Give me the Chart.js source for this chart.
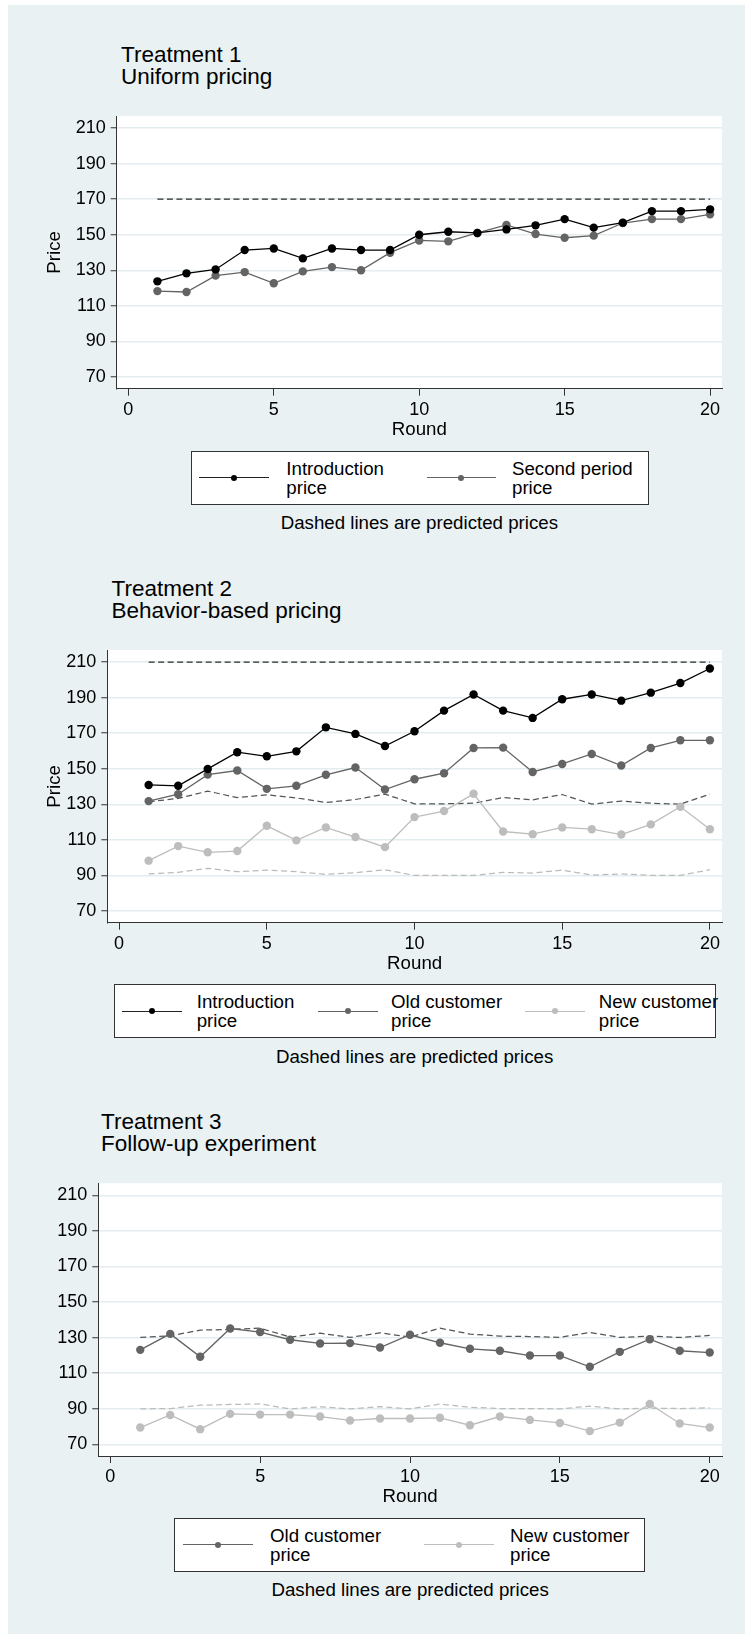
<!DOCTYPE html>
<html>
<head>
<meta charset="utf-8">
<script src="https://cdn.jsdelivr.net/npm/chart.js@4/dist/chart.umd.min.js"></script>
<style>
html,body{margin:0;padding:0;background:#fff;}
#page{position:relative;width:745px;height:1634px;overflow:hidden;background:#fff;font-family:"Liberation Sans",Arial,Helvetica,sans-serif;color:#000;}
#bg{position:absolute;left:8px;top:5px;right:0;bottom:0;background:#e9f1f3;}
canvas{position:absolute;left:0;}
.title{position:absolute;font-size:22.5px;line-height:22px;white-space:nowrap;}
.legend{position:absolute;background:#fff;border:1px solid #333;box-sizing:border-box;}
.item-line{position:absolute;height:0;border-top:1.3px solid;}
.item-dot{position:absolute;width:6px;height:6px;border-radius:50%;}
.item-text{position:absolute;font-size:18.7px;line-height:18.7px;white-space:nowrap;}
.note{position:absolute;font-size:18.7px;line-height:22px;white-space:nowrap;transform:translate(-50%,-50%);}
</style>
</head>
<body>
<div id="page"><div id="bg"></div></div>
<script>
// ---------------- DATA ----------------
const rounds = [1,2,3,4,5,6,7,8,9,10,11,12,13,14,15,16,17,18,19,20];
const yTickValues = [70,90,110,130,150,170,190,210];
const xTickValues = [0,5,10,15,20];

// Treatment 1 – Uniform pricing
const t1Intro  = [123.8,128.3,130.5,141.4,142.3,136.7,142.3,141.4,141.4,150.0,151.7,151.0,153.0,155.3,158.8,154.0,156.8,163.3,163.3,164.3];
const t1Second = [118.3,117.8,127.0,129.0,122.7,129.4,131.8,130.0,139.9,146.8,146.3,151.0,155.5,150.4,148.3,149.5,156.6,158.8,158.8,161.5];
const t1Pred   = [170,170,170,170,170,170,170,170,170,170,170,170,170,170,170,170,170,170,170,170];

// Treatment 2 – Behavior-based pricing
const t2Intro   = [140.9,140.4,149.9,159.3,157.0,159.8,173.3,169.6,162.8,171.1,182.7,191.8,182.7,178.6,189.1,191.8,188.3,192.8,198.2,206.4];
const t2Old     = [131.8,135.7,146.7,149.0,138.7,140.4,146.6,150.7,138.3,144.1,147.5,161.7,161.9,148.2,152.7,158.3,151.8,161.7,166.0,166.0];
const t2New     = [98.3,106.5,103.0,103.7,117.9,109.7,117.0,111.6,105.9,122.8,126.2,135.9,114.7,113.2,117.0,116.0,113.0,118.7,128.6,116.0];
const t2PredIntro = [210,210,210,210,210,210,210,210,210,210,210,210,210,210,210,210,210,210,210,210];
const t2PredOld = [131.4,133.3,137.4,133.8,135.3,133.6,131.0,132.7,135.7,130.3,130.3,130.6,133.8,132.5,135.5,130.1,131.8,130.6,130.1,135.7];
const t2PredNew = [90.8,91.7,94.0,92.1,93.0,92.1,90.6,91.5,93.2,90.0,90.0,90.0,91.7,91.3,93.0,90.2,90.8,90.0,90.0,93.2];

// Treatment 3 – Follow-up experiment
const t3Old     = [123.1,132.1,119.2,135.1,133.1,128.8,126.7,126.9,124.4,131.6,127.1,123.7,122.6,119.9,119.9,113.6,122.0,129.1,122.6,121.6];
const t3New     = [79.4,86.5,78.5,87.1,86.7,86.7,85.6,83.4,84.5,84.5,84.9,80.7,85.6,83.7,82.0,77.4,82.2,92.7,81.7,79.4];
const t3PredOld = [130.1,131.0,134.2,134.6,135.3,130.3,132.5,130.1,132.7,130.3,135.3,132.0,130.8,130.6,130.1,132.9,130.1,130.8,130.1,131.2];
const t3PredNew = [89.9,90.1,92.0,92.4,92.7,89.9,91.1,89.9,91.2,89.9,92.6,90.8,90.1,90.1,89.9,91.4,89.9,90.3,90.1,90.5];

const panelTitles = [["Treatment 1","Uniform pricing"],["Treatment 2","Behavior-based pricing"],["Treatment 3","Follow-up experiment"]];
const seriesNames = {intro:["Introduction","price"], second:["Second period","price"], old:["Old customer","price"], nu:["New customer","price"]};
const noteText = "Dashed lines are predicted prices";
const yTitle = "Price";
const xTitle = "Round";

// ---------------- STYLE ----------------
const FONT = '"Liberation Sans", Arial, Helvetica, sans-serif';
const C_BLACK = '#000000', C_OLD = '#646464', C_NEW = '#bdbdbd';
const C_PRED_I = '#2a2a2a', C_PRED_O = '#555555', C_PRED_N = '#bbbbbb';
const page = document.getElementById('page');

function pts(vals){ return rounds.map((r,i)=>({x:r,y:vals[i]})); }
function solid(vals,color){
  return {data:pts(vals),borderColor:color,backgroundColor:color,pointBackgroundColor:color,
    pointBorderWidth:0,pointRadius:4.2,pointHoverRadius:4.2,borderWidth:1.3,tension:0};
}
function dashed(vals,color){
  return {data:pts(vals),borderColor:color,backgroundColor:color,pointRadius:0,pointHoverRadius:0,
    borderWidth:1.25,borderDash:[6,3.5],tension:0};
}

const plotBg = {id:'plotBg', beforeDraw(chart){
  const a = chart.chartArea, ctx = chart.ctx;
  ctx.save(); ctx.fillStyle = '#ffffff';
  ctx.fillRect(a.left, a.top, a.right-a.left, a.bottom-a.top); ctx.restore();
}};

function makePanel(p){
  const canvasTop = p.canvasTop, canvasH = p.canvasH;
  const cv = document.createElement('canvas');
  cv.width = 745; cv.height = canvasH;
  cv.style.width = '745px'; cv.style.height = canvasH+'px'; cv.style.top = canvasTop+'px';
  page.appendChild(cv);
  const xAxisH = canvasTop + canvasH - p.B;
  new Chart(cv.getContext('2d'), {
    type:'line',
    data:{datasets:p.datasets},
    plugins:[plotBg],
    options:{
      responsive:false, animation:false, devicePixelRatio:1,
      layout:{padding:{left:0, top:p.T-canvasTop, right:23, bottom:0}},
      plugins:{legend:{display:false}, tooltip:{enabled:false}, title:{display:false}},
      events:[],
      scales:{
        x:{type:'linear', min:-0.4, max:20.41,
          afterBuildTicks:(ax)=>{ ax.ticks = xTickValues.map(v=>({value:v})); },
          afterFit:(s)=>{ s.height = xAxisH; },
          ticks:{color:'#000', font:{family:FONT,size:18}, padding:3.5, autoSkip:false, maxRotation:0},
          grid:{drawOnChartArea:false, drawTicks:true, tickLength:7, tickColor:'#333', tickWidth:1},
          border:{display:true, color:'#333', width:1},
          title:{display:true, text:xTitle, color:'#000', font:{family:FONT,size:18.7}, padding:{top:0,bottom:xAxisH-41-11.22}}
        },
        y:{type:'linear', min:63.4, max:216.8,
          afterBuildTicks:(ax)=>{ ax.ticks = yTickValues.map(v=>({value:v})); },
          afterFit:(s)=>{ s.width = p.L; },
          ticks:{color:'#000', font:{family:FONT,size:18}, padding:5, autoSkip:false},
          grid:{color:'#e3ecef', lineWidth:1.5, drawTicks:true, tickLength:6, tickColor:'#333', tickWidth:1},
          border:{display:true, color:'#333', width:1},
          title:{display:p.showY, text:yTitle, color:'#000', font:{family:FONT,size:18.7}, padding:{top:55-11.22,bottom:0}}
        }
      }
    }
  });
  // title
  const t = document.createElement('div');
  t.className = 'title'; t.style.left = p.titleX+'px'; t.style.top = p.titleTop+'px';
  t.innerHTML = p.title[0]+'<br>'+p.title[1];
  page.appendChild(t);
  // legend
  const bx = p.legend.box;
  const box = document.createElement('div');
  box.className = 'legend';
  box.style.left = bx[0]+'px'; box.style.top = bx[1]+'px'; box.style.width = bx[2]+'px'; box.style.height = bx[3]+'px';
  page.appendChild(box);
  const lineY = bx[1] + 27.3, textTop = bx[1] + 9.2;
  p.legend.items.forEach(it=>{
    const ln = document.createElement('div');
    ln.className = 'item-line';
    ln.style.left = it.x1+'px'; ln.style.width = (it.x2-it.x1)+'px'; ln.style.top = (lineY-0.65)+'px';
    ln.style.borderTopColor = it.color === C_BLACK ? '#222' : it.color;
    page.appendChild(ln);
    const dot = document.createElement('div');
    dot.className = 'item-dot';
    dot.style.left = ((it.x1+it.x2)/2-3)+'px'; dot.style.top = (lineY-3)+'px'; dot.style.background = it.color;
    page.appendChild(dot);
    const tx = document.createElement('div');
    tx.className = 'item-text';
    tx.style.left = it.tx+'px'; tx.style.top = textTop+'px';
    tx.innerHTML = it.label[0]+'<br>'+it.label[1];
    page.appendChild(tx);
  });
  const note = document.createElement('div');
  note.className = 'note';
  note.style.left = ((p.L+722)/2)+'px'; note.style.top = (bx[1]+bx[3]+18.3)+'px';
  note.textContent = noteText;
  page.appendChild(note);
}

makePanel({
  canvasTop:100, canvasH:341, T:116, B:388.7, L:116.7, showY:true,
  title:panelTitles[0], titleX:121, titleTop:43.5,
  datasets:[solid(t1Intro,C_BLACK), solid(t1Second,C_OLD), dashed(t1Pred,C_PRED_I)],
  legend:{box:[190.7,450.7,458.3,54.3], items:[
    {x1:199.3,x2:269.3,tx:286.3,color:C_BLACK,label:seriesNames.intro},
    {x1:426.5,x2:495.5,tx:512,color:C_OLD,label:seriesNames.second}]}
});
makePanel({
  canvasTop:634, canvasH:341, T:650, B:922.7, L:107.3, showY:true,
  title:panelTitles[1], titleX:111.5, titleTop:578.2,
  datasets:[solid(t2Intro,C_BLACK), solid(t2Old,C_OLD), solid(t2New,C_NEW),
            dashed(t2PredIntro,C_PRED_I), dashed(t2PredOld,C_PRED_O), dashed(t2PredNew,C_PRED_N)],
  legend:{box:[113.5,984,602,54.3], items:[
    {x1:122.4,x2:181.6,tx:196.7,color:C_BLACK,label:seriesNames.intro},
    {x1:317.6,x2:377.6,tx:391,color:C_OLD,label:seriesNames.old},
    {x1:524.5,x2:584.5,tx:598.8,color:C_NEW,label:seriesNames.nu}]}
});
makePanel({
  canvasTop:1167, canvasH:341, T:1183.3, B:1456, L:98.3, showY:false,
  title:panelTitles[2], titleX:101, titleTop:1110.9,
  datasets:[solid(t3Old,C_OLD), solid(t3New,C_NEW), dashed(t3PredOld,C_PRED_O), dashed(t3PredNew,C_PRED_N)],
  legend:{box:[174.3,1517.7,471,54.3], items:[
    {x1:183.3,x2:253.3,tx:270,color:C_OLD,label:seriesNames.old},
    {x1:424.3,x2:494.3,tx:510,color:C_NEW,label:seriesNames.nu}]}
});
</script>
</body>
</html>
